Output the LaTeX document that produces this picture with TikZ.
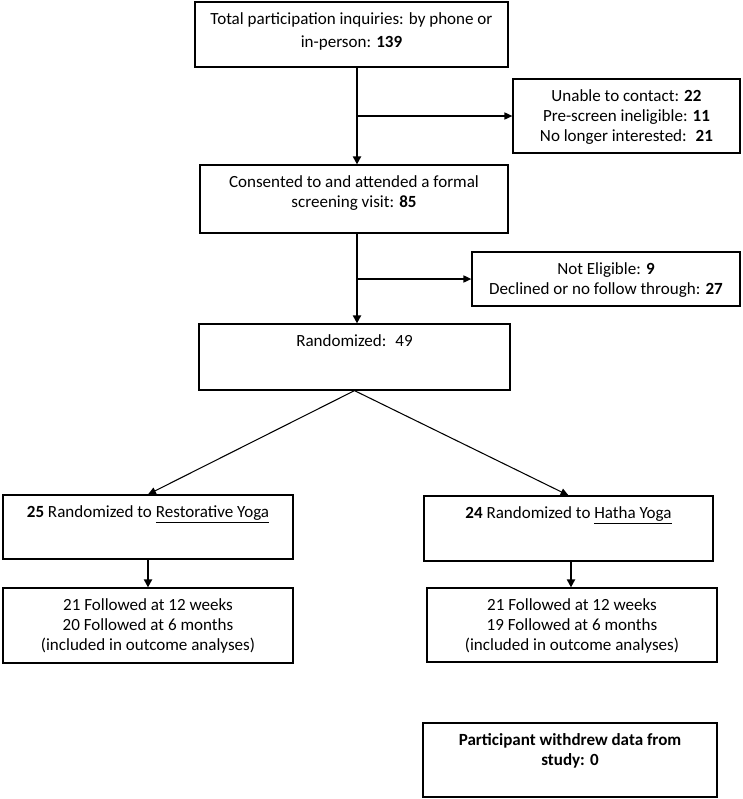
\documentclass[tikz,border=0pt]{standalone}
\usepackage{fontspec}
\setmainfont{Carlito}
\usetikzlibrary{arrows.meta}

\newlength\pxu
\setlength\pxu{0.02cm}
% width, height (in px), text
\newcommand{\boxtxt}[3]{\parbox[c][#2\pxu][t]{#1\pxu}{\centering\rule{0pt}{22\pxu}#3\par}}

\begin{document}
\begin{tikzpicture}[x=0.02cm,y=-0.02cm,
  block/.style={draw=black,line width=0.7pt,inner sep=0pt,font=\fontsize{9.7}{11.5}\selectfont},
  stemline/.style={line width=1.1pt,-{Triangle[length=4.5pt,width=4.5pt]}},
  sideline/.style={line width=0.8pt,-{Triangle[length=4.5pt,width=4pt]}},
  splitline/.style={line width=0.6pt,-{Triangle[length=4.5pt,width=4pt]}}]
\useasboundingbox (0,0) rectangle (743,799);
% main column
\node[block] (inq) at (351.5,34.5) {\boxtxt{313}{65}{Total participation inquiries: by phone or\\[3\pxu]in-person: \textbf{139}}};
\node[block] (lost) at (626.5,116) {\boxtxt{227}{74}{Unable to contact: \textbf{22}\\Pre-screen ineligible: \textbf{11}\\No longer interested: \ \textbf{21}}};
\node[block] (screen) at (354,199) {\boxtxt{308}{68}{Consented to and attended a formal\\screening visit: \textbf{85}}};
\node[block] (drop) at (606,279) {\boxtxt{268}{54}{Not Eligible: \textbf{9}\\Declined or no follow through: \textbf{27}}};
\node[block] (rand) at (354.5,357) {\boxtxt{311}{66}{Randomized: \ 49}};
% arms
\node[block] (resto) at (148,527) {\boxtxt{290}{64}{\textbf{25} Randomized to \underline{Restorative Yoga}}};
\node[block] (hatha) at (568.5,528.5) {\boxtxt{289}{65}{\textbf{24} Randomized to \underline{Hatha Yoga}}};
\node[block] (restofu) at (148,625.5) {\boxtxt{290}{75}{21 Followed at 12 weeks\\20 Followed at 6 months\\(included in outcome analyses)}};
\node[block] (hathafu) at (572,625) {\boxtxt{290}{74}{21 Followed at 12 weeks\\19 Followed at 6 months\\(included in outcome analyses)}};
\node[block] (withdrew) at (570,760) {\boxtxt{294}{74}{\textbf{Participant withdrew data from\\study: 0}}};
% connectors
\coordinate (stem) at (357,0);
\draw[stemline] (inq.south -| stem) -- (screen.north -| stem);
\draw[sideline] (stem |- lost.west) -- (lost.west);
\draw[stemline] (screen.south -| stem) -- (rand.north -| stem);
\draw[sideline] (stem |- drop.west) -- (drop.west);
\draw[splitline] (rand.south) -- (resto.north);
\draw[splitline] (rand.south) -- (hatha.north);
\draw[stemline] (resto.south) -- (restofu.north);
\draw[stemline] ([xshift=2.5\pxu]hatha.south) -- ([xshift=2.5\pxu]hatha.south |- hathafu.north);
\end{tikzpicture}
\end{document}
